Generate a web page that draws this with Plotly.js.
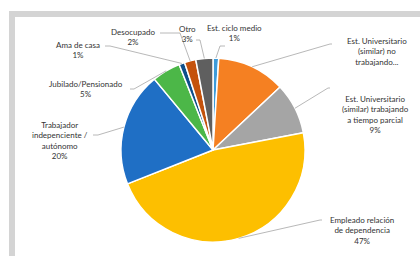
<!DOCTYPE html>
<html>
<head>
<meta charset="utf-8">
<script src="https://cdn.plot.ly/plotly-3.0.1.min.js"></script>
<style>html,body{margin:0;padding:0;background:#fff;}#chart{width:420px;height:256px;}</style>
</head>
<body>
<div id="chart"></div>
<script>
// Data
var categories = [
  "Est. ciclo medio",
  "Est. Universitario (similar) no trabajando...",
  "Est. Universitario (similar) trabajando a tiempo parcial",
  "Empleado relación de dependencia",
  "Trabajador indepenciente / autónomo",
  "Jubilado/Pensionado",
  "Ama de casa",
  "Desocupado",
  "Otro"
];
var values = [1, 12, 9, 47, 20, 5, 1, 2, 3];
var labelTexts = [
  "Est. ciclo medio<br>1%",
  "Est. Universitario<br>(similar) no<br>trabajando...",
  "Est. Universitario<br>(similar) trabajando<br>a tiempo parcial<br>9%",
  "Empleado relación<br>de dependencia<br>47%",
  "Trabajador<br>indepenciente /<br>autónomo<br>20%",
  "Jubilado/Pensionado<br>5%",
  "Ama de casa<br>1%",
  "Desocupado<br>2%",
  "Otro<br>3%"
];
var colors = ["#3d9ad8", "#f58022", "#a5a5a5", "#fdbf00", "#1f6fc5", "#4cb748", "#0e4f8a", "#c4520c", "#5f5f5f"];

// Layout (pixel positions)
var W = 420, H = 256;
var cx = 213, cy = 150, R = 92;
// label centre positions and leader line start/elbow points
var labelPos = [[234, 33], [377, 51], [375, 114], [362, 230], [60, 140], [86, 89], [78, 50], [133, 37], [187, 33.5]];
var lineStart = [[225, 46], [332, 44], [330, 88], [322, 220], [93, 135], [130, 89], [105, 46], [160, 33], [196, 40]];
var lineElbow = [[220, 46], [330, 44], [328, 88], [320, 220], [98, 135], [134, 89], [110, 46], [180, 33], [200, 40]];

function px(x) { return x / W; }
function py(y) { return 1 - y / H; }

var total = values.reduce(function (a, b) { return a + b; }, 0);
var shapes = [
  {type: "rect", xref: "paper", yref: "paper", x0: px(9), x1: px(420), y0: py(17), y1: py(11), fillcolor: "#d4d4d4", line: {width: 0}, layer: "below"},
  {type: "rect", xref: "paper", yref: "paper", x0: px(9), x1: px(15), y0: py(256), y1: py(11), fillcolor: "#d4d4d4", line: {width: 0}, layer: "below"}
];
var annotations = [];
var cum = 0;
for (var i = 0; i < values.length; i++) {
  var mid = (cum + values[i] / 2) / total * 2 * Math.PI;
  cum += values[i];
  var tx = cx + R * Math.sin(mid), ty = cy - R * Math.cos(mid);
  shapes.push({
    type: "path", xref: "paper", yref: "paper",
    path: "M " + px(lineStart[i][0]) + "," + py(lineStart[i][1]) +
          " L " + px(lineElbow[i][0]) + "," + py(lineElbow[i][1]) +
          " L " + px(tx) + "," + py(ty),
    line: {color: "#a6a6a6", width: 0.8}
  });
  annotations.push({
    xref: "paper", yref: "paper", x: px(labelPos[i][0]), y: py(labelPos[i][1]),
    xanchor: "center", yanchor: "middle", showarrow: false, align: "center",
    text: labelTexts[i], font: {family: "Lato, sans-serif", size: 8, color: "#333333"}
  });
}

var trace = {
  type: "pie",
  labels: categories,
  values: values,
  sort: false,
  direction: "clockwise",
  rotation: 0,
  textinfo: "none",
  hoverinfo: "none",
  marker: {colors: colors, line: {color: "#ffffff", width: 1.5}},
  domain: {x: [px(cx - R), px(cx + R)], y: [py(cy + R), py(cy - R)]}
};

var layout = {
  width: W, height: H,
  margin: {l: 0, r: 0, t: 0, b: 0},
  paper_bgcolor: "#ffffff",
  showlegend: false,
  shapes: shapes,
  annotations: annotations
};

Plotly.newPlot("chart", [trace], layout, {staticPlot: true, displayModeBar: false});
</script>
</body>
</html>
